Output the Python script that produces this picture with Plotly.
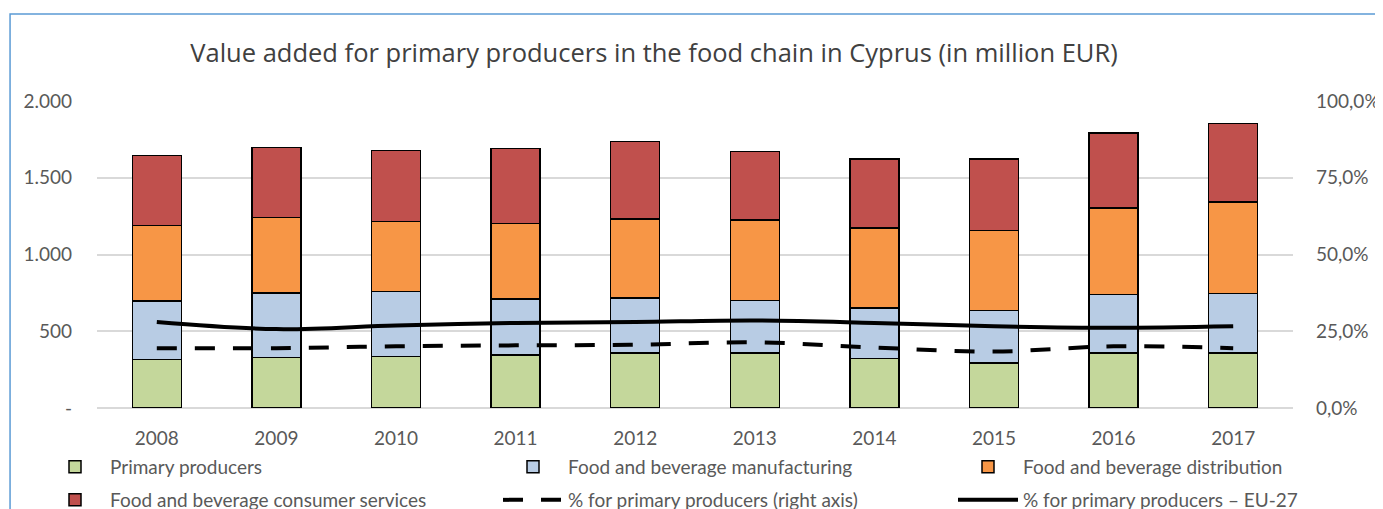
import plotly.graph_objects as go

years = ['2008', '2009', '2010', '2011', '2012', '2013', '2014', '2015', '2016', '2017']

# value added, million EUR
primary = [315, 330, 336, 345, 358, 358, 323, 293, 358, 358]
manufacturing = [382, 419, 424, 365, 359, 341, 328, 343, 380, 387]
distribution = [491, 493, 454, 491, 514, 526, 522, 519, 565, 597]
consumer_services = [456, 456, 462, 488, 506, 447, 449, 467, 488, 512]

# share of primary producers, %
share_cyprus = [19.5, 19.5, 20.1, 20.4, 20.6, 21.4, 19.7, 18.4, 20.1, 19.5]
share_eu27 = [28.0, 25.7, 26.9, 27.7, 28.0, 28.5, 27.7, 26.6, 26.1, 26.6]

text_color = '#595959'
tick_font = 'Lato, sans-serif'
title_font = 'Open Sans, sans-serif'

# page body has an 8px margin, so the figure is drawn 8px smaller
W, H = 1375, 501

fig = go.Figure()

bar_series = [
    ('Primary producers', primary, '#c4d79b', 'legend'),
    ('Food and beverage manufacturing', manufacturing, '#b8cce4', 'legend2'),
    ('Food and beverage distribution', distribution, '#f79646', 'legend3'),
    ('Food and beverage consumer services', consumer_services, '#c0504d', 'legend4'),
]
for name, vals, color, leg in bar_series:
    fig.add_trace(go.Bar(
        x=years, y=vals, name=name, legend=leg, showlegend=True,
        marker=dict(color=color, line=dict(color='#000000', width=1.5)),
    ))

fig.add_trace(go.Scatter(
    x=years, y=share_cyprus, name='% for primary producers (right axis)',
    yaxis='y2', mode='lines', legend='legend5',
    line=dict(color='#000000', width=4, dash='20px,18px', shape='spline'),
))
fig.add_trace(go.Scatter(
    x=years, y=share_eu27, name='% for primary producers \u2013 EU-27',
    yaxis='y2', mode='lines', legend='legend6',
    line=dict(color='#000000', width=4, shape='spline'),
))


# one single-entry legend per slot, so the 3x2 grid sits where the original has it
def legend_at(x_px, top_px):
    return dict(
        orientation='h', xref='container', yref='container',
        x=x_px / W, y=1 - top_px / H, xanchor='left', yanchor='top',
        itemwidth=60, bgcolor='rgba(0,0,0,0)',
        font=dict(family=tick_font, size=19, color=text_color),
    )


fig.update_layout(
    width=W, height=H, showlegend=True,
    barmode='stack', bargap=0.59,
    margin=dict(l=89, r=90, t=93, b=101, autoexpand=False),
    paper_bgcolor='#ffffff', plot_bgcolor='#ffffff',
    font=dict(family=tick_font, size=19, color=text_color),
    title=dict(
        text='Value added for primary producers in the food chain in Cyprus (in million EUR)',
        x=646 / W, xanchor='center', y=1 - 45 / H, yanchor='middle',
        font=dict(family=title_font, size=25.5, color='#404040'),
    ),
    xaxis=dict(showgrid=False, showline=False, ticks='', ticklabelstandoff=17),
    yaxis=dict(
        range=[0, 2000], tickvals=[0, 500, 1000, 1500, 2000],
        ticktext=['-', '500', '1.000', '1.500', '2.000'],
        showgrid=True, gridcolor='#d9d9d9', gridwidth=1.5,
        zeroline=True, zerolinecolor='#d9d9d9', zerolinewidth=1.5,
        ticklabelstandoff=24,
    ),
    yaxis2=dict(
        range=[0, 100], overlaying='y', side='right',
        tickvals=[0, 25, 50, 75, 100],
        ticktext=['0,0%', '25,0%', '50,0%', '75,0%', '100,0%'],
        showgrid=False, zeroline=False, ticklabelstandoff=22,
    ),
    legend=legend_at(32, 440),
    legend2=legend_at(490, 440),
    legend3=legend_at(945, 440),
    legend4=legend_at(32, 473),
    legend5=legend_at(490, 473),
    legend6=legend_at(945, 473),
    shapes=[dict(
        type='rect', xref='paper', yref='paper',
        x0=-0.0727, x1=1.2, y0=-1.0, y1=1.2834,
        line=dict(color='#5b9bd5', width=1.5), fillcolor='rgba(0,0,0,0)',
        layer='below',
    )],
)

fig.write_html('out.html')
